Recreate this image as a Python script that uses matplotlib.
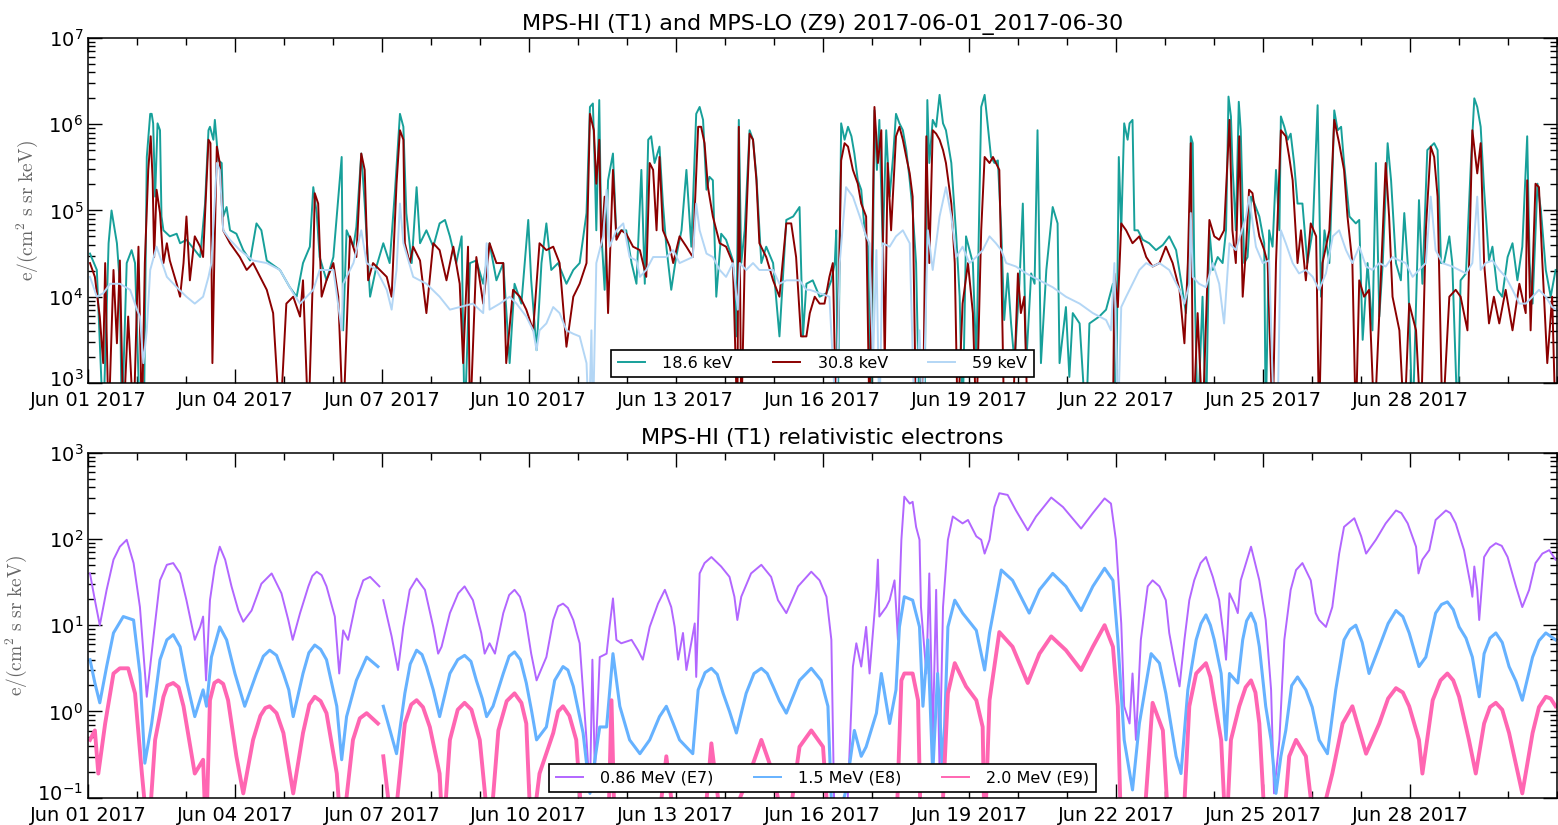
import numpy as np
import pandas as pd
import matplotlib
matplotlib.use('Agg')
import matplotlib.pyplot as plt
import matplotlib.dates as mdates
from matplotlib.transforms import ScaledTranslation

matplotlib.rcParams['font.family'] = 'DejaVu Sans'

start = pd.Timestamp('2017-06-01')

# (day since Jun 01 00:00, log10 flux); 2.5 / -1.5 = below the axis
flux_18p6 = [(0.04,4.50),(0.18,4.31),(0.31,2.5),(0.42,4.62),(0.48,5.00),(0.59,4.62),(0.65,4.15),(0.69,2.5),(0.79,4.39),(0.89,4.54),(0.96,4.39),(1.06,2.5),(1.14,2.5),(1.20,5.62),(1.27,6.12),(1.30,6.12),(1.33,6.01),(1.37,5.16),(1.42,6.01),(1.47,5.93),(1.50,4.93),(1.54,4.77),(1.67,4.70),(1.81,4.73),(1.88,4.62),(2.01,4.66),(2.18,4.54),(2.29,4.46),(2.39,5.08),(2.46,5.93),(2.49,5.97),(2.56,5.82),(2.59,6.05),(2.66,5.58),(2.73,5.55),(2.76,4.93),(2.83,5.04),(2.90,4.77),(3.03,4.73),(3.17,4.54),(3.31,4.42),(3.44,4.85),(3.54,4.77),(3.65,4.42),(3.92,4.31),(4.12,4.11),(4.26,4.00),(4.39,4.39),(4.53,4.58),(4.60,5.27),(4.67,4.97),(4.73,4.46),(4.87,4.19),(5.01,4.46),(5.18,5.62),(5.21,3.61),(5.28,4.77),(5.42,4.58),(5.48,4.81),(5.58,5.66),(5.65,5.08),(5.76,4.00),(5.89,4.35),(6.03,4.62),(6.16,4.39),(6.27,5.24),(6.37,6.12),(6.44,5.97),(6.50,4.97),(6.61,4.39),(6.71,5.27),(6.78,4.62),(6.91,4.77),(7.05,4.58),(7.18,4.85),(7.29,4.89),(7.39,4.70),(7.52,4.39),(7.63,4.70),(7.69,2.5),(7.80,4.39),(7.93,4.42),(8.07,4.15),(8.20,4.62),(8.34,4.19),(8.48,4.39),(8.61,3.23),(8.71,4.15),(8.85,3.92),(8.99,4.89),(9.05,4.19),(9.16,3.38),(9.26,4.39),(9.36,4.85),(9.46,4.31),(9.60,4.39),(9.77,4.15),(9.91,4.31),(10.04,4.39),(10.18,4.97),(10.25,6.20),(10.31,6.24),(10.35,5.47),(10.38,4.77),(10.44,6.28),(10.48,4.77),(10.55,4.08),(10.62,5.35),(10.72,5.66),(10.79,4.70),(10.89,4.77),(10.99,4.77),(11.10,4.39),(11.20,4.15),(11.30,5.47),(11.37,4.15),(11.44,5.82),(11.50,5.86),(11.57,5.55),(11.67,5.74),(11.74,5.08),(11.81,4.58),(11.91,4.08),(12.01,4.46),(12.12,4.77),(12.22,5.47),(12.32,4.58),(12.42,6.12),(12.49,6.20),(12.56,6.05),(12.63,5.24),(12.69,5.39),(12.76,5.35),(12.83,4.00),(12.93,4.73),(13.03,4.66),(13.17,4.42),(13.24,3.54),(13.29,6.05),(13.34,4.39),(13.41,4.77),(13.51,5.93),(13.58,5.82),(13.65,5.39),(13.75,4.39),(13.85,4.58),(13.99,4.39),(14.12,3.54),(14.26,4.89),(14.40,4.93),(14.53,5.04),(14.60,3.54),(14.67,4.15),(14.80,4.19),(14.94,4.00),(15.08,4.04),(15.18,4.19),(15.25,4.39),(15.28,4.77),(15.31,2.5),(15.38,6.01),(15.45,5.82),(15.52,5.97),(15.59,5.86),(15.65,5.66),(15.72,5.35),(15.79,5.24),(15.86,4.77),(15.93,4.58),(15.99,2.5),(16.06,6.16),(16.11,5.47),(16.16,6.05),(16.23,4.58),(16.30,5.93),(16.37,5.16),(16.44,5.62),(16.50,6.12),(16.57,6.01),(16.64,5.93),(16.71,5.70),(16.78,5.35),(16.84,5.00),(16.91,4.39),(16.98,2.5),(17.08,2.5),(17.14,6.28),(17.18,5.55),(17.25,6.05),(17.32,5.97),(17.39,6.34),(17.46,6.01),(17.52,5.93),(17.63,5.55),(17.73,4.70),(17.80,4.00),(17.86,2.5),(17.93,4.70),(18.07,4.39),(18.14,3.23),(18.24,6.20),(18.31,6.34),(18.37,6.01),(18.44,5.62),(18.51,5.55),(18.58,5.58),(18.65,4.77),(18.71,3.73),(18.78,4.27),(18.85,3.69),(18.92,3.23),(19.02,4.15),(19.09,5.08),(19.16,3.23),(19.26,4.27),(19.33,4.15),(19.39,5.93),(19.46,3.23),(19.57,4.31),(19.70,5.04),(19.80,4.85),(19.84,3.23),(19.97,3.88),(20.04,3.07),(20.11,3.81),(20.25,3.69),(20.38,2.5),(20.45,3.69),(20.65,3.77),(20.79,3.85),(20.93,4.15),(20.99,2.5),(21.05,5.62),(21.10,4.77),(21.16,6.01),(21.23,5.82),(21.27,6.01),(21.33,6.05),(21.37,4.77),(21.44,4.77),(21.54,4.66),(21.67,4.62),(21.81,4.54),(21.95,4.60),(22.08,4.70),(22.22,4.54),(22.35,4.08),(22.42,3.81),(22.49,4.39),(22.52,5.86),(22.56,5.78),(22.59,4.39),(22.66,2.5),(22.76,4.00),(22.83,2.5),(22.90,4.77),(22.97,4.31),(23.07,4.46),(23.17,4.39),(23.24,4.77),(23.29,6.32),(23.34,6.09),(23.37,5.55),(23.44,4.77),(23.50,6.26),(23.54,5.93),(23.61,4.39),(23.68,4.46),(23.75,5.16),(23.82,5.08),(23.92,4.93),(24.02,4.62),(24.05,2.5),(24.12,4.77),(24.19,4.58),(24.26,5.47),(24.33,4.77),(24.36,6.09),(24.43,5.97),(24.50,5.82),(24.56,5.89),(24.63,5.55),(24.70,5.08),(24.80,5.08),(24.90,4.39),(25.01,4.77),(25.11,6.22),(25.18,4.00),(25.25,4.77),(25.35,4.39),(25.42,5.55),(25.45,6.16),(25.52,5.93),(25.59,5.97),(25.65,5.55),(25.76,4.93),(25.89,4.85),(25.96,4.89),(26.03,3.50),(26.13,4.39),(26.23,3.61),(26.30,5.55),(26.37,3.77),(26.44,4.39),(26.54,5.78),(26.61,5.35),(26.71,4.39),(26.81,4.19),(26.88,4.97),(26.95,4.39),(27.05,2.5),(27.18,5.12),(27.25,4.15),(27.35,5.70),(27.42,5.74),(27.49,5.78),(27.56,5.70),(27.63,4.39),(27.69,4.39),(27.80,4.70),(27.86,4.39),(27.97,2.5),(28.03,4.19),(28.14,4.27),(28.24,5.55),(28.31,6.30),(28.37,6.20),(28.44,5.97),(28.51,5.24),(28.61,4.42),(28.68,4.58),(28.78,4.08),(28.88,4.00),(28.99,4.46),(29.09,4.62),(29.19,4.19),(29.29,4.58),(29.39,5.86),(29.44,4.39),(29.50,3.92),(29.60,5.31),(29.67,5.00),(29.77,4.31),(29.87,4.00),(29.97,4.31)]

flux_30p8 = [(0.04,4.39),(0.14,4.23),(0.24,3.77),(0.31,3.23),(0.35,4.39),(0.42,2.5),(0.52,4.31),(0.59,3.46),(0.65,4.42),(0.72,2.5),(0.82,3.77),(0.93,2.5),(1.03,4.58),(1.10,2.5),(1.16,4.39),(1.23,5.47),(1.28,5.86),(1.32,5.35),(1.35,4.46),(1.40,5.24),(1.47,4.97),(1.54,4.39),(1.61,4.62),(1.67,4.42),(1.81,4.15),(1.88,4.00),(1.95,4.39),(2.01,4.93),(2.08,4.19),(2.18,4.70),(2.29,4.58),(2.35,4.46),(2.46,5.82),(2.50,5.78),(2.54,3.23),(2.58,4.46),(2.63,5.74),(2.69,5.55),(2.76,4.77),(2.90,4.62),(3.10,4.46),(3.24,4.31),(3.37,4.39),(3.65,4.08),(3.78,3.81),(3.92,2.5),(4.05,3.92),(4.19,4.00),(4.33,3.77),(4.39,4.19),(4.50,2.5),(4.60,4.39),(4.63,5.20),(4.70,5.08),(4.77,4.00),(4.87,4.19),(5.01,4.39),(5.11,4.00),(5.21,2.5),(5.35,4.70),(5.48,4.46),(5.58,5.66),(5.65,5.47),(5.72,4.19),(5.82,4.39),(5.96,4.31),(6.10,4.23),(6.20,4.00),(6.30,5.31),(6.37,5.93),(6.44,5.82),(6.47,4.62),(6.57,4.39),(6.64,4.58),(6.78,4.42),(6.91,3.81),(7.05,4.62),(7.18,4.54),(7.32,4.19),(7.46,4.58),(7.59,4.15),(7.66,3.23),(7.76,4.58),(7.80,2.5),(7.93,4.46),(8.07,3.92),(8.20,4.62),(8.34,4.39),(8.48,4.39),(8.54,3.23),(8.68,4.08),(8.82,4.00),(8.95,3.85),(9.09,3.61),(9.22,4.62),(9.36,4.54),(9.50,4.58),(9.63,4.39),(9.77,3.42),(9.91,4.00),(10.04,4.15),(10.18,4.39),(10.25,6.12),(10.33,5.93),(10.38,5.31),(10.44,5.82),(10.48,4.58),(10.55,5.16),(10.62,3.81),(10.72,5.47),(10.79,4.66),(10.89,4.77),(10.99,4.73),(11.13,4.58),(11.27,4.54),(11.40,4.23),(11.47,5.55),(11.54,5.47),(11.61,4.77),(11.67,5.62),(11.74,4.77),(11.88,4.58),(11.95,4.39),(12.08,4.70),(12.22,4.58),(12.35,4.46),(12.46,5.97),(12.52,5.97),(12.59,5.78),(12.66,5.27),(12.76,4.93),(12.90,4.62),(13.03,4.58),(13.17,4.39),(13.26,2.5),(13.29,5.97),(13.34,2.5),(13.41,4.39),(13.51,5.89),(13.58,5.82),(13.65,5.35),(13.71,4.62),(13.85,4.46),(13.99,4.19),(14.12,4.00),(14.26,4.85),(14.36,4.85),(14.46,4.46),(14.56,3.54),(14.67,3.54),(14.74,3.81),(14.84,4.00),(14.94,3.92),(15.04,3.92),(15.14,4.23),(15.21,4.39),(15.28,2.5),(15.38,5.58),(15.45,5.78),(15.52,5.74),(15.62,5.47),(15.72,5.31),(15.79,5.08),(15.89,4.93),(15.96,2.5),(16.06,6.20),(16.13,5.55),(16.20,5.93),(16.27,3.23),(16.33,5.55),(16.40,4.77),(16.50,5.86),(16.57,5.97),(16.64,5.82),(16.71,5.62),(16.78,5.43),(16.84,5.16),(16.91,2.5),(17.05,2.5),(17.12,5.86),(17.18,4.39),(17.25,5.93),(17.32,5.89),(17.39,5.82),(17.46,5.70),(17.52,5.55),(17.63,5.08),(17.70,4.39),(17.76,2.5),(17.86,3.92),(17.97,4.39),(18.07,3.81),(18.14,2.5),(18.24,4.77),(18.31,5.62),(18.41,5.55),(18.48,5.62),(18.54,5.55),(18.61,5.47),(18.65,4.39),(18.71,2.5),(18.88,2.5),(18.99,4.27),(19.05,3.81),(19.12,4.00),(19.19,2.5),(20.93,2.5),(20.96,4.27),(21.03,3.88),(21.10,4.85),(21.20,4.77),(21.33,4.62),(21.47,4.70),(21.61,4.46),(21.74,4.35),(21.88,4.39),(22.01,4.58),(22.15,4.39),(22.29,4.08),(22.39,3.46),(22.46,4.39),(22.52,5.78),(22.57,2.5),(22.66,3.81),(22.76,2.5),(22.90,4.89),(23.00,4.70),(23.10,4.66),(23.20,4.77),(23.31,6.05),(23.37,4.77),(23.44,4.39),(23.51,5.86),(23.58,4.00),(23.65,4.58),(23.71,5.24),(23.78,5.20),(23.85,4.93),(23.92,4.70),(24.02,4.54),(24.09,4.39),(24.19,2.5),(24.26,4.39),(24.36,5.93),(24.46,5.86),(24.53,5.62),(24.60,5.35),(24.70,4.39),(24.77,4.77),(24.87,4.19),(24.97,4.85),(25.08,4.70),(25.14,2.5),(25.21,4.39),(25.35,4.77),(25.45,6.05),(25.55,5.78),(25.65,5.47),(25.72,4.93),(25.82,4.39),(25.89,2.5),(25.96,4.19),(26.06,4.00),(26.16,4.08),(26.27,2.5),(26.37,3.81),(26.50,5.55),(26.57,4.93),(26.64,4.00),(26.78,3.61),(26.88,2.5),(26.98,3.92),(27.12,3.61),(27.22,2.5),(27.32,4.77),(27.42,5.74),(27.49,5.62),(27.56,5.16),(27.66,2.5),(27.80,4.00),(27.93,4.08),(28.03,4.00),(28.17,3.61),(28.27,5.93),(28.37,5.43),(28.44,5.78),(28.51,4.39),(28.61,3.69),(28.71,4.00),(28.82,3.69),(28.95,4.08),(29.09,3.61),(29.23,4.15),(29.36,3.81),(29.39,5.35),(29.46,3.61),(29.56,5.31),(29.63,5.27),(29.70,4.39),(29.80,3.23),(29.90,4.00),(29.97,2.5)]

flux_59 = [(0.04,4.23),(0.18,4.00),(0.31,4.04),(0.45,4.15),(0.65,4.15),(0.86,4.08),(1.00,3.85),(1.06,3.77),(1.13,3.23),(1.20,3.61),(1.27,4.31),(1.40,4.58),(1.61,4.23),(1.81,4.11),(2.01,4.00),(2.18,3.92),(2.35,4.00),(2.46,4.23),(2.52,4.39),(2.63,5.55),(2.69,5.47),(2.76,4.77),(2.90,4.66),(3.10,4.54),(3.37,4.42),(3.65,4.39),(3.92,4.31),(4.19,4.04),(4.33,3.92),(4.60,4.08),(4.73,4.31),(5.01,4.31),(5.18,3.61),(5.21,4.15),(5.42,4.39),(5.58,4.77),(5.69,4.39),(5.89,4.31),(6.10,4.08),(6.20,3.85),(6.30,4.31),(6.37,5.08),(6.44,4.62),(6.64,4.23),(6.91,4.15),(7.18,4.00),(7.39,3.85),(7.59,3.88),(7.86,3.92),(8.07,3.81),(8.14,4.62),(8.20,3.85),(8.41,3.92),(8.61,4.00),(8.75,3.92),(8.95,3.77),(9.09,3.61),(9.16,3.38),(9.22,3.61),(9.36,3.69),(9.50,3.88),(9.63,3.81),(9.77,3.61),(9.91,3.57),(10.04,3.54),(10.18,3.23),(10.23,2.5),(10.28,3.61),(10.31,2.5),(10.38,4.39),(10.52,4.70),(10.59,5.24),(10.65,4.58),(10.79,4.77),(10.93,4.85),(11.06,4.46),(11.20,4.42),(11.27,4.23),(11.40,4.31),(11.54,4.46),(11.81,4.46),(11.95,4.54),(12.08,4.39),(12.35,4.46),(12.42,5.08),(12.49,4.77),(12.63,4.50),(12.76,4.46),(12.90,4.31),(13.03,4.23),(13.17,4.39),(13.27,3.85),(13.31,4.39),(13.44,4.31),(13.58,4.39),(13.71,4.31),(13.99,4.31),(14.12,4.15),(14.26,4.19),(14.53,4.19),(14.67,4.08),(14.74,4.08),(14.94,4.04),(15.14,4.00),(15.28,2.5),(15.35,4.39),(15.48,5.27),(15.62,5.16),(15.76,4.93),(15.89,4.70),(15.96,4.62),(16.03,3.23),(16.10,4.54),(16.16,2.5),(16.23,4.62),(16.37,4.58),(16.50,4.70),(16.64,4.77),(16.78,4.62),(16.88,2.5),(16.98,3.61),(17.05,2.5),(17.15,4.77),(17.25,4.31),(17.39,4.93),(17.52,5.27),(17.63,4.93),(17.73,4.46),(17.86,4.58),(18.00,4.39),(18.14,4.46),(18.27,4.54),(18.41,4.70),(18.54,4.62),(18.65,4.54),(18.75,4.39),(18.95,4.35),(19.16,4.27),(19.43,4.19),(19.70,4.11),(19.97,4.00),(20.25,3.92),(20.52,3.81),(20.79,3.73),(20.89,3.61),(20.96,4.39),(21.03,2.5),(21.10,3.88),(21.20,4.00),(21.33,4.15),(21.47,4.31),(21.61,4.39),(21.74,4.35),(21.88,4.39),(22.08,4.31),(22.29,4.08),(22.39,3.92),(22.49,4.15),(22.52,4.97),(22.56,4.23),(22.69,4.15),(22.83,4.11),(22.97,4.39),(23.10,4.15),(23.20,3.69),(23.31,4.62),(23.44,4.54),(23.65,4.93),(23.71,5.16),(23.85,4.58),(23.99,4.39),(24.12,4.42),(24.22,2.5),(24.29,2.5),(24.36,4.77),(24.46,4.62),(24.60,4.39),(24.73,4.27),(24.87,4.31),(25.01,4.23),(25.14,4.08),(25.28,4.27),(25.42,4.70),(25.55,4.77),(25.69,4.54),(25.82,4.39),(25.96,4.58),(26.10,4.35),(26.23,4.31),(26.37,4.39),(26.50,4.35),(26.64,4.46),(26.78,4.42),(26.91,4.39),(27.05,4.23),(27.18,4.31),(27.32,4.39),(27.42,5.16),(27.52,4.54),(27.66,4.39),(27.86,4.35),(28.00,4.31),(28.14,4.27),(28.27,4.39),(28.37,5.16),(28.44,4.31),(28.54,4.39),(28.68,4.42),(28.82,4.31),(28.95,4.23),(29.09,4.08),(29.23,3.92),(29.36,3.92),(29.50,4.00),(29.63,4.08),(29.77,4.00),(29.90,3.88),(29.99,3.85)]

flux_e7 = [(0.04,1.60),(0.14,1.29),(0.24,1.00),(0.38,1.41),(0.52,1.76),(0.65,1.91),(0.79,1.99),(0.93,1.72),(1.06,1.21),(1.20,0.17),(1.33,0.83),(1.47,1.52),(1.61,1.70),(1.74,1.72),(1.88,1.60),(2.01,1.29),(2.18,0.83),(2.29,0.98),(2.35,1.10),(2.41,0.36),(2.49,1.29),(2.59,1.68),(2.69,1.91),(2.80,1.76),(2.93,1.45),(3.07,1.17),(3.17,1.04),(3.34,1.17),(3.54,1.48),(3.75,1.60),(3.95,1.37),(4.09,1.06),(4.18,0.83),(4.33,1.14),(4.50,1.45),(4.58,1.57),(4.67,1.62),(4.77,1.58),(4.87,1.45),(5.04,1.10),(5.13,0.44),(5.21,0.94),(5.31,0.83),(5.48,1.29),(5.62,1.52),(5.76,1.56),(5.95,1.45),(5.98,np.nan),(6.03,1.29),(6.20,0.87),(6.33,0.48),(6.44,0.98),(6.57,1.41),(6.71,1.54),(6.88,1.41),(7.05,0.98),(7.15,0.67),(7.22,0.75),(7.39,1.14),(7.56,1.37),(7.69,1.45),(7.86,1.29),(8.03,0.91),(8.10,0.67),(8.20,0.79),(8.31,0.67),(8.48,1.14),(8.60,1.35),(8.71,1.41),(8.82,1.33),(8.92,1.14),(9.05,0.67),(9.16,0.36),(9.36,0.63),(9.50,1.06),(9.60,1.22),(9.70,1.25),(9.80,1.20),(9.91,1.06),(10.04,0.79),(10.18,-0.33),(10.25,-0.95),(10.30,0.60),(10.35,-0.72),(10.45,0.63),(10.59,0.67),(10.65,0.98),(10.72,1.31),(10.79,0.83),(10.89,0.79),(11.10,0.83),(11.23,0.71),(11.33,0.60),(11.47,0.98),(11.64,1.25),(11.78,1.41),(11.91,1.21),(11.98,0.98),(12.05,0.60),(12.15,0.91),(12.22,0.48),(12.39,1.02),(12.42,0.40),(12.49,1.60),(12.59,1.72),(12.73,1.79),(12.93,1.68),(13.10,1.56),(13.20,1.33),(13.26,1.06),(13.34,1.33),(13.54,1.60),(13.75,1.70),(13.95,1.56),(14.09,1.29),(14.26,1.14),(14.50,1.45),(14.77,1.62),(14.94,1.52),(15.08,1.33),(15.18,0.83),(15.25,-1.5),(15.48,-1.5),(15.62,0.52),(15.69,0.79),(15.79,0.52),(15.89,0.98),(15.96,0.44),(16.10,1.41),(16.13,1.76),(16.16,1.10),(16.30,1.21),(16.37,1.29),(16.47,1.52),(16.54,0.83),(16.61,1.99),(16.67,2.49),(16.78,2.41),(16.84,2.43),(16.91,2.14),(16.98,1.99),(17.01,1.21),(17.12,0.44),(17.18,1.60),(17.25,-0.33),(17.32,1.41),(17.39,-0.72),(17.46,1.21),(17.56,1.99),(17.66,2.26),(17.86,2.18),(17.97,2.22),(18.14,2.03),(18.24,1.99),(18.31,1.83),(18.41,1.99),(18.51,2.37),(18.61,2.53),(18.78,2.51),(18.95,2.33),(19.19,2.10),(19.36,2.26),(19.67,2.48),(19.91,2.37),(20.28,2.12),(20.52,2.30),(20.76,2.47),(20.89,2.41),(20.99,1.99),(21.10,1.02),(21.16,0.06),(21.27,-0.14),(21.33,0.44),(21.40,-0.33),(21.50,0.83),(21.64,1.45),(21.74,1.52),(21.88,1.45),(22.01,1.29),(22.08,0.91),(22.18,0.60),(22.29,0.29),(22.39,0.83),(22.49,1.29),(22.59,1.52),(22.72,1.72),(22.83,1.79),(22.97,1.56),(23.10,1.29),(23.20,0.83),(23.24,0.60),(23.31,1.37),(23.41,1.25),(23.48,1.14),(23.54,1.52),(23.75,1.91),(23.92,1.52),(24.05,1.06),(24.16,0.25),(24.22,-0.95),(24.33,-0.33),(24.43,0.83),(24.56,1.41),(24.67,1.64),(24.80,1.72),(24.97,1.52),(25.07,1.14),(25.14,1.06),(25.28,0.98),(25.41,1.21),(25.55,1.83),(25.65,2.14),(25.86,2.24),(26.00,2.03),(26.10,1.83),(26.20,1.91),(26.30,1.99),(26.50,2.18),(26.71,2.33),(26.82,2.30),(26.95,2.18),(27.12,1.91),(27.17,1.60),(27.25,1.76),(27.39,1.87),(27.52,2.22),(27.73,2.33),(27.82,2.30),(27.93,2.18),(28.10,1.87),(28.24,1.45),(28.27,1.33),(28.31,1.68),(28.37,1.41),(28.41,1.06),(28.51,1.79),(28.63,1.90),(28.75,1.95),(28.87,1.92),(28.99,1.79),(29.16,1.45),(29.29,1.21),(29.43,1.41),(29.56,1.72),(29.70,1.83),(29.84,1.87),(29.97,1.76)]

flux_e8 = [(0.04,0.60),(0.14,0.33),(0.24,0.10),(0.38,0.52),(0.52,0.91),(0.72,1.10),(0.93,1.06),(1.06,0.44),(1.16,-0.60),(1.30,-0.14),(1.47,0.60),(1.61,0.83),(1.74,0.89),(1.88,0.75),(2.01,0.36),(2.18,-0.06),(2.35,0.25),(2.42,0.06),(2.52,0.63),(2.69,0.98),(2.83,0.83),(3.00,0.44),(3.20,0.06),(3.44,0.44),(3.58,0.64),(3.71,0.71),(3.85,0.65),(3.99,0.44),(4.10,0.25),(4.19,-0.06),(4.39,0.44),(4.51,0.68),(4.63,0.77),(4.75,0.72),(4.87,0.60),(5.08,0.06),(5.18,-0.56),(5.28,-0.06),(5.48,0.36),(5.69,0.63),(5.92,0.52),(5.98,np.nan),(6.03,0.06),(6.30,-0.49),(6.47,0.21),(6.58,0.55),(6.71,0.71),(6.82,0.66),(6.91,0.52),(7.05,0.25),(7.18,-0.06),(7.39,0.44),(7.55,0.60),(7.69,0.65),(7.82,0.58),(7.93,0.36),(8.05,0.15),(8.14,-0.06),(8.27,0.06),(8.48,0.44),(8.60,0.64),(8.71,0.69),(8.83,0.60),(8.95,0.33),(9.06,0.0),(9.16,-0.33),(9.36,-0.18),(9.53,0.36),(9.70,0.52),(9.80,0.48),(9.91,0.29),(10.11,-0.25),(10.25,-0.95),(10.45,-0.18),(10.59,-0.18),(10.72,0.67),(10.86,0.06),(11.06,-0.33),(11.27,-0.49),(11.47,-0.33),(11.67,-0.06),(11.81,0.06),(11.95,-0.14),(12.08,-0.33),(12.35,-0.49),(12.46,0.25),(12.60,0.45),(12.73,0.50),(12.85,0.43),(12.97,0.21),(13.10,0.0),(13.24,-0.25),(13.44,0.21),(13.60,0.44),(13.75,0.50),(13.87,0.44),(13.99,0.29),(14.12,0.12),(14.26,-0.02),(14.53,0.36),(14.77,0.50),(14.97,0.36),(15.11,0.06),(15.21,-1.5),(15.48,-0.91),(15.65,-0.22),(15.79,-0.52),(15.89,-0.41),(16.10,-0.02),(16.20,0.44),(16.37,-0.14),(16.50,0.25),(16.57,0.98),(16.67,1.33),(16.84,1.29),(16.98,0.98),(17.05,0.06),(17.15,0.83),(17.25,-0.72),(17.35,0.44),(17.46,-0.72),(17.56,0.98),(17.70,1.29),(17.86,1.14),(18.14,0.94),(18.31,0.48),(18.41,0.91),(18.65,1.64),(18.88,1.52),(19.22,1.14),(19.43,1.41),(19.70,1.60),(19.97,1.45),(20.28,1.17),(20.52,1.45),(20.76,1.66),(20.93,1.52),(21.03,0.83),(21.16,-0.33),(21.33,-0.91),(21.47,-0.14),(21.71,0.67),(21.88,0.56),(22.01,0.21),(22.22,-0.52),(22.32,-0.72),(22.46,0.25),(22.63,0.83),(22.73,1.02),(22.83,1.12),(22.92,1.00),(23.00,0.83),(23.14,0.44),(23.24,-0.33),(23.31,0.44),(23.48,0.33),(23.58,0.83),(23.66,1.05),(23.75,1.14),(23.84,1.02),(23.92,0.75),(24.05,0.06),(24.16,-0.33),(24.26,-0.95),(24.36,-0.52),(24.46,-0.22),(24.58,0.30),(24.70,0.40),(24.87,0.25),(25.00,0.05),(25.14,-0.33),(25.31,-0.49),(25.48,0.25),(25.65,0.83),(25.77,0.95),(25.89,1.00),(26.02,0.80),(26.16,0.44),(26.37,0.75),(26.55,1.02),(26.71,1.17),(26.85,1.10),(26.98,0.91),(27.18,0.52),(27.32,0.63),(27.52,1.14),(27.64,1.24),(27.76,1.27),(27.88,1.18),(28.00,0.98),(28.14,0.85),(28.27,0.63),(28.41,0.17),(28.51,0.67),(28.63,0.85),(28.75,0.91),(28.88,0.80),(29.02,0.52),(29.16,0.35),(29.29,0.13),(29.50,0.63),(29.63,0.82),(29.77,0.91),(29.97,0.83)]

flux_e9 = [(0.04,-0.33),(0.14,-0.22),(0.21,-0.72),(0.35,-0.14),(0.52,0.44),(0.65,0.50),(0.82,0.50),(0.96,0.21),(1.10,-0.72),(1.23,-1.5),(1.37,-0.33),(1.54,0.17),(1.62,0.30),(1.74,0.33),(1.85,0.28),(1.95,0.06),(2.18,-0.72),(2.35,-0.56),(2.41,-1.5),(2.49,0.13),(2.58,0.33),(2.66,0.36),(2.76,0.32),(2.86,0.13),(3.03,-0.52),(3.17,-0.95),(3.37,-0.33),(3.52,-0.05),(3.62,0.04),(3.71,0.06),(3.85,-0.02),(3.99,-0.25),(4.19,-0.95),(4.39,-0.25),(4.52,0.08),(4.63,0.17),(4.75,0.12),(4.87,-0.02),(5.08,-0.72),(5.18,-1.5),(5.41,-0.33),(5.55,-0.08),(5.69,-0.02),(5.92,-0.14),(5.98,np.nan),(6.03,-0.52),(6.23,-1.5),(6.47,-0.14),(6.60,0.08),(6.71,0.13),(6.84,0.05),(6.98,-0.18),(7.18,-0.72),(7.25,-1.5),(7.39,-0.33),(7.55,0.02),(7.69,0.10),(7.83,0.02),(8.00,-0.33),(8.20,-1.5),(8.38,-0.22),(8.55,0.12),(8.71,0.21),(8.85,0.10),(8.95,-0.14),(9.05,-1.5),(9.22,-0.72),(9.50,-0.25),(9.60,0.0),(9.70,0.06),(9.83,-0.05),(9.97,-0.33),(10.11,-1.5),(10.62,-1.5),(10.69,0.13),(10.76,-1.5),(11.61,-1.5),(11.81,-0.52),(12.01,-1.5),(12.56,-1.5),(12.73,-0.37),(12.97,-1.5),(13.51,-0.72),(13.75,-0.33),(13.99,-0.72),(14.26,-1.5),(14.53,-0.41),(14.77,-0.22),(15.01,-0.41),(15.14,-1.5),(16.50,-1.5),(16.61,0.36),(16.67,0.44),(16.84,0.44),(16.95,0.13),(17.01,-1.5),(17.42,-1.5),(17.56,0.21),(17.70,0.56),(17.93,0.29),(18.14,0.13),(18.27,-0.18),(18.31,-1.5),(18.41,0.13),(18.61,0.92),(18.88,0.75),(19.19,0.33),(19.43,0.67),(19.67,0.87),(19.97,0.71),(20.28,0.48),(20.52,0.75),(20.76,1.00),(20.93,0.75),(21.03,0.06),(21.10,-1.5),(21.54,-1.5),(21.74,0.10),(21.95,-0.22),(22.08,-1.5),(22.35,-1.5),(22.49,0.06),(22.63,0.44),(22.83,0.56),(22.92,0.40),(23.00,0.13),(23.14,-0.33),(23.24,-1.5),(23.34,-0.33),(23.51,0.06),(23.64,0.28),(23.75,0.36),(23.84,0.22),(23.92,-0.14),(24.05,-1.5),(24.39,-1.5),(24.53,-0.52),(24.67,-0.33),(24.87,-0.52),(25.07,-1.5),(25.41,-0.72),(25.62,-0.14),(25.82,0.06),(26.10,-0.49),(26.37,-0.14),(26.55,0.15),(26.71,0.27),(26.85,0.22),(26.98,0.06),(27.18,-0.33),(27.25,-0.72),(27.46,0.13),(27.62,0.36),(27.76,0.44),(27.88,0.36),(28.00,0.17),(28.20,-0.33),(28.34,-0.72),(28.51,-0.14),(28.63,0.05),(28.75,0.10),(28.88,0.02),(29.02,-0.25),(29.29,-0.95),(29.50,-0.25),(29.63,0.05),(29.77,0.17),(29.87,0.15),(29.97,0.06)]

top_labels = ['18.6 keV', '30.8 keV', '59 keV']
top_colors = ['#17a09a', '#8b0000', '#b3d6f5']
bottom_labels = ['0.86 MeV (E7)', '1.5 MeV (E8)', '2.0 MeV (E9)']
bottom_colors = ['#b266ff', '#66b2ff', '#ff66b2']
bottom_widths = [1.4, 2.2, 2.8]


def to_series(pairs):
    arr = np.array(pairs, dtype=float)
    times = start + pd.to_timedelta(arr[:, 0], unit='D')
    return times, 10 ** arr[:, 1]


def style_axis(ax, ylo, yhi):
    ax.set_yscale('log')
    ax.set_ylim(ylo, yhi)
    ax.set_xlim(start, start + pd.Timedelta(days=30))
    major = [mdates.date2num(start + pd.Timedelta(days=d)) for d in range(0, 30, 3)]
    minor = [mdates.date2num(start + pd.Timedelta(days=d)) for d in range(0, 31)]
    ax.set_xticks(major)
    ax.set_xticks(minor, minor=True)
    ax.xaxis.set_major_formatter(mdates.DateFormatter('%b %d %Y'))
    ax.tick_params(which='both', direction='in', top=True, right=True, width=1)
    ax.tick_params(which='major', length=10, labelsize=14)
    ax.tick_params(axis='x', which='major', pad=6)
    ax.tick_params(which='minor', length=5)
    for sp in ax.spines.values():
        sp.set_linewidth(1.1)
    ax.set_ylabel(r'$\mathrm{e/(cm^2\ s\ sr\ keV)}$', math_fontfamily='cm',
                  color='0.4', fontsize=14, labelpad=6)


def add_legend(ax):
    leg = ax.legend(loc='lower center', ncol=3, fontsize=11.5, fancybox=False,
                    edgecolor='black', framealpha=1, handlelength=1.7,
                    handletextpad=1.1, columnspacing=2.5, borderaxespad=0.35)
    leg.get_frame().set_linewidth(1.2)


def lift_bottom_label(ax, ylo):
    # nudge the lowest decade label up a touch so it clears the date label
    for tick in ax.yaxis.get_major_ticks():
        if np.isclose(tick.get_loc(), ylo):
            tick.label1.set_transform(tick.label1.get_transform() +
                                      ScaledTranslation(0, 4 / 72, fig.dpi_scale_trans))


fig = plt.figure(figsize=(15.58, 8.25), dpi=100)
ax1 = fig.add_axes([0.0565, 0.5358, 0.9429, 0.4182])
ax2 = fig.add_axes([0.0565, 0.0331, 0.9429, 0.4182])

for pairs, lab, col in zip([flux_18p6, flux_30p8, flux_59], top_labels, top_colors):
    t, v = to_series(pairs)
    ax1.plot(t, v, color=col, lw=1.4, label=lab)
style_axis(ax1, 1e3, 1e7)
ax1.set_title('MPS-HI (T1) and MPS-LO (Z9) 2017-06-01_2017-06-30', fontsize=16)
add_legend(ax1)

for pairs, lab, col, lw in zip([flux_e7, flux_e8, flux_e9], bottom_labels, bottom_colors, bottom_widths):
    t, v = to_series(pairs)
    ax2.plot(t, v, color=col, lw=lw, label=lab)
style_axis(ax2, 1e-1, 1e3)
ax2.set_title('MPS-HI (T1) relativistic electrons', fontsize=16)
add_legend(ax2)
for line in ax2.get_legend().get_lines():
    line.set_linewidth(1.4)

fig.canvas.draw()
lift_bottom_label(ax1, 1e3)
lift_bottom_label(ax2, 1e-1)

fig.savefig('out.png', dpi=100)
